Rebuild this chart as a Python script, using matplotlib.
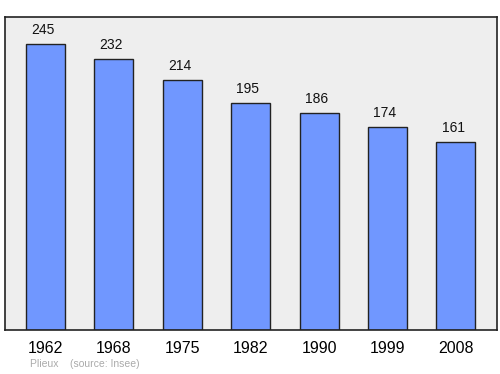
import matplotlib
matplotlib.use('Agg')
import matplotlib.pyplot as plt

plt.rcParams['font.family'] = ['Liberation Sans', 'DejaVu Sans']

years = ['1962', '1968', '1975', '1982', '1990', '1999', '2008']
population = [245, 232, 214, 195, 186, 174, 161]

fig = plt.figure(figsize=(5, 3.74), dpi=100)
ax = fig.add_axes([0.01, 0.1176, 0.984, 0.837])
ax.set_facecolor('#eeeeee')

x = range(len(years))
ax.bar(x, population, width=0.57, color='#7097ff', edgecolor='#222222', linewidth=1)
for i, v in zip(x, population):
    ax.text(i - 0.04, v + 6, str(v), ha='center', va='bottom', fontsize=10, color='#111111')

ax.set_xlim(-0.59, 6.6)
ax.set_ylim(0, 268.3)
ax.set_yticks([])
ax.set_xticks(list(x))
ax.set_xticklabels(years, fontsize=11.5)
ax.tick_params(axis='x', length=0, pad=8)
for s in ax.spines.values():
    s.set_color('#222222')
    s.set_linewidth(1.2)

fig.text(0.06, 0.018, 'Plieux    (source: Insee)', fontsize=7.5, color='#aaaaaa')

fig.savefig('out.png', dpi=100)
